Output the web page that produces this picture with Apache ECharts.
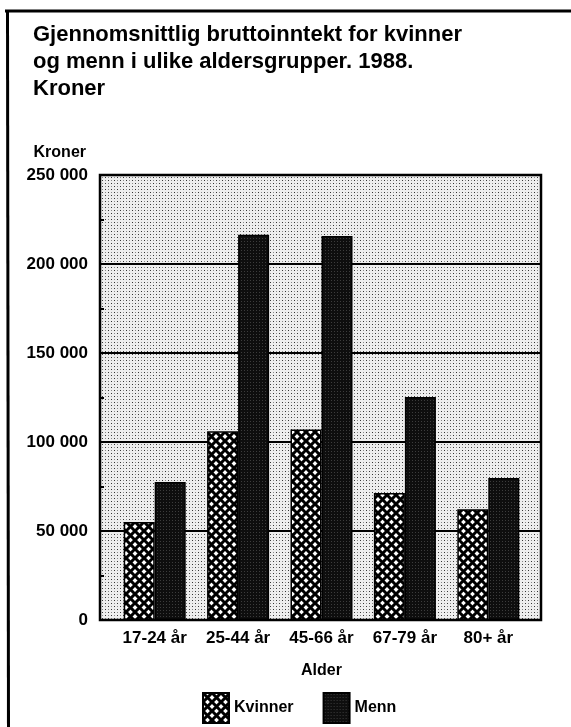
<!DOCTYPE html>
<html>
<head>
<meta charset="utf-8">
<script src="https://cdn.jsdelivr.net/npm/echarts@6/dist/echarts.min.js"></script>
<style>
html,body{margin:0;padding:0;background:#fff;}
#chart{width:571px;height:727px;}
</style>
</head>
<body>
<div id="chart"></div>
<script>
// ---- data ----
const titleText = 'Gjennomsnittlig bruttoinntekt for kvinner\nog menn i ulike aldersgrupper. 1988.\nKroner';
const categories = ['17-24 år', '25-44 år', '45-66 år', '67-79 år', '80+ år'];
const seriesNames = ['Kvinner', 'Menn'];
const kvinner = [55000, 106000, 107000, 71300, 62200];
const menn = [77500, 216500, 215700, 125300, 79800];
const yMin = 0, yMax = 250000, yStep = 50000;
const yAxisName = 'Kroner';
const xAxisName = 'Alder';

// ---- patterns ----
function makeCanvas(size, draw) {
  const c = document.createElement('canvas');
  c.width = c.height = size;
  draw(c.getContext('2d'), size);
  return c;
}
const bgCanvas = makeCanvas(6, (g, s) => {
  g.fillStyle = '#eeeeee'; g.fillRect(0, 0, s, s);
  g.fillStyle = '#333';
  g.fillRect(0, 0, 1, 1); g.fillRect(3, 3, 1, 1);
  g.fillStyle = '#8a8a8a';
  g.fillRect(3, 0, 1, 1); g.fillRect(0, 3, 1, 1);
});
const hatchCanvas = makeCanvas(9, (g, s) => {
  g.fillStyle = '#ffffff'; g.fillRect(0, 0, s, s);
  g.strokeStyle = '#000'; g.lineWidth = 3;
  g.beginPath();
  g.moveTo(-2, -2); g.lineTo(s + 2, s + 2);
  g.moveTo(s + 2, -2); g.lineTo(-2, s + 2);
  g.stroke();
});
const darkCanvas = makeCanvas(3, (g, s) => {
  g.fillStyle = '#0e0e0e'; g.fillRect(0, 0, s, s);
  g.fillStyle = '#3c3c3c'; g.fillRect(1, 1, 1, 1);
});
const bgPattern = { image: bgCanvas, repeat: 'repeat' };
const hatchPattern = { image: hatchCanvas, repeat: 'repeat' };
const darkPattern = { image: darkCanvas, repeat: 'repeat' };

const FONT = '"Liberation Sans", Arial, sans-serif';
const fmt = v => String(v).replace(/\B(?=(\d{3})+(?!\d))/g, ' ');

const chart = echarts.init(document.getElementById('chart'), null, { renderer: 'canvas' });
chart.setOption({
  animation: false,
  backgroundColor: '#fff',
  title: {
    text: titleText,
    left: 33, top: 21, padding: 0,
    textStyle: { fontFamily: FONT, fontWeight: 'bold', fontSize: 22, lineHeight: 27, color: '#000' }
  },
  graphic: [
    { type: 'line', shape: { x1: 5, y1: 11, x2: 571, y2: 11 }, style: { stroke: '#000', lineWidth: 3 } },
    { type: 'line', shape: { x1: 7.5, y1: 10, x2: 8.5, y2: 727 }, style: { stroke: '#000', lineWidth: 3 } }
  ],
  grid: [
    { left: 100, right: 30, top: 175, bottom: 107, show: true, backgroundColor: bgPattern,
      borderColor: '#000', borderWidth: 2.5 },
    { left: 113, right: 41, top: 175, bottom: 107 }
  ],
  xAxis: [
    { gridIndex: 0, type: 'category', data: categories, show: false },
    { gridIndex: 1, type: 'category', data: categories,
      axisLine: { show: false }, axisTick: { show: false },
      axisLabel: { interval: 0, margin: 10, fontFamily: FONT, fontWeight: 'bold', fontSize: 17, color: '#000' },
      name: xAxisName, nameLocation: 'middle', nameGap: 43,
      nameTextStyle: { fontFamily: FONT, fontWeight: 'bold', fontSize: 16, color: '#000' } }
  ],
  yAxis: [
    { gridIndex: 0, type: 'value', min: yMin, max: yMax, interval: yStep,
      axisLine: { show: false },
      axisTick: { show: true, inside: true, length: 4, lineStyle: { color: '#000', width: 2 } },
      minorTick: { show: true, splitNumber: 2, length: 4, lineStyle: { color: '#000', width: 2 } },
      splitLine: { show: true, lineStyle: { color: '#000', width: 2 } },
      axisLabel: { margin: 12, formatter: fmt, fontFamily: FONT, fontWeight: 'bold', fontSize: 17, color: '#000' },
      name: yAxisName, nameLocation: 'end', nameGap: 14,
      nameTextStyle: { fontFamily: FONT, fontWeight: 'bold', fontSize: 16, color: '#000', align: 'right', padding: [0, 14, 0, 0] } },
    { gridIndex: 1, type: 'value', min: yMin, max: yMax, interval: yStep, show: false, splitLine: { show: false } }
  ],
  legend: {
    left: 197, top: 687, itemWidth: 26, itemHeight: 30, itemGap: 29,
    icon: 'rect',
    textStyle: { fontFamily: FONT, fontWeight: 'bold', fontSize: 16, color: '#000' },
    data: seriesNames
  },
  series: [
    { name: seriesNames[0], type: 'bar', xAxisIndex: 1, yAxisIndex: 1, data: kvinner,
      barWidth: 31, barGap: '0%',
      itemStyle: { color: hatchPattern, borderColor: '#000', borderWidth: 1.5 } },
    { name: seriesNames[1], type: 'bar', xAxisIndex: 1, yAxisIndex: 1, data: menn,
      barWidth: 31, barGap: '0%',
      itemStyle: { color: darkPattern, borderColor: '#000', borderWidth: 1.5 } }
  ]
});
</script>
</body>
</html>
